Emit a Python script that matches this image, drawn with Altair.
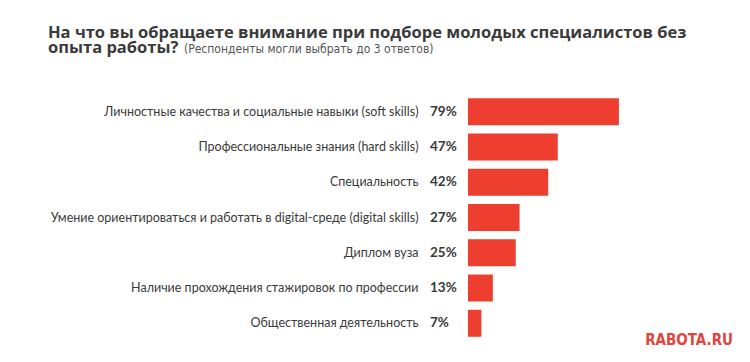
import altair as alt
import pandas as pd

categories = [
    "Личностные качества и социальные навыки (soft skills)",
    "Профессиональные знания (hard skills)",
    "Специальность",
    "Умение ориентироваться и работать в digital-среде (digital skills)",
    "Диплом вуза",
    "Наличие прохождения стажировок по профессии",
    "Общественная деятельность",
]
values = [79, 47, 42, 27, 25, 13, 7]

title_line1 = "На что вы обращаете внимание при подборе молодых специалистов без"
title_line2 = "опыта работы?"
note_text = "(Респонденты могли выбрать до 3 ответов)"
logo_text = "RABOTA.RU"

df = pd.DataFrame({
    "cat": categories,
    "val": values,
    "lbl": [f"{v}%" for v in values],
})

FONT = "Lato"
TFONT = "Open Sans"
NARROW = "DejaVu Sans Condensed, Roboto, sans-serif"
RED = "#EE3E2F"
TXT = "#3a3a3a"
TITLE_SIZE = 16.5

y_enc = alt.Y(
    "cat:N",
    sort=None,
    scale=alt.Scale(paddingInner=0.235, paddingOuter=0.12),
    axis=alt.Axis(
        title=None, domain=False, ticks=False, labelPadding=50,
        labelFont=FONT, labelFontSize=12.5, labelColor=TXT, labelLimit=500,
        labelAlign="right",
    ),
)

bars = alt.Chart(df).mark_bar(color=RED, cornerRadius=0).encode(
    x=alt.X("val:Q", scale=alt.Scale(domain=[0, 100]), axis=None),
    y=y_enc,
)

pct = alt.Chart(df).mark_text(
    align="left", baseline="middle", font=FONT, fontSize=13.5,
    fontWeight="bold", color=TXT,
).encode(
    y=alt.Y("cat:N", sort=None),
    x=alt.value(-38),
    text="lbl:N",
)

line2 = alt.Chart(pd.DataFrame({"t": [title_line2]})).mark_text(
    align="left", baseline="alphabetic", font=TFONT,
    fontSize=TITLE_SIZE, fontWeight="bold", color=TXT,
).encode(x=alt.value(-420), y=alt.value(-41.5), text="t:N")

note = alt.Chart(pd.DataFrame({"t": [note_text]})).mark_text(
    align="left", baseline="alphabetic", font=NARROW,
    fontSize=12, color="#555555",
).encode(x=alt.value(-284), y=alt.value(-41.5), text="t:N")

logo = alt.Chart(pd.DataFrame({"t": [logo_text]})).mark_text(
    align="right", baseline="alphabetic", font=NARROW,
    fontSize=15, fontWeight="bold", color="#E2453B",
).encode(x=alt.value(265), y=alt.value(251), text="t:N")

chart = alt.layer(bars, pct, line2, note, logo).properties(
    width=191,
    height=247,
    background="white",
    autosize=alt.AutoSizeParams(type="none"),
    padding={"left": 460, "top": 86, "right": 83, "bottom": 13},
    title=alt.TitleParams(
        text=title_line1, anchor="start", frame="group", dx=-420, dy=12,
        font=TFONT, fontSize=TITLE_SIZE, fontWeight="bold", color=TXT,
        offset=10,
    ),
).configure_view(strokeWidth=0, stroke="transparent")

chart.save("out.html", embed_options={"renderer": "svg", "actions": False})
